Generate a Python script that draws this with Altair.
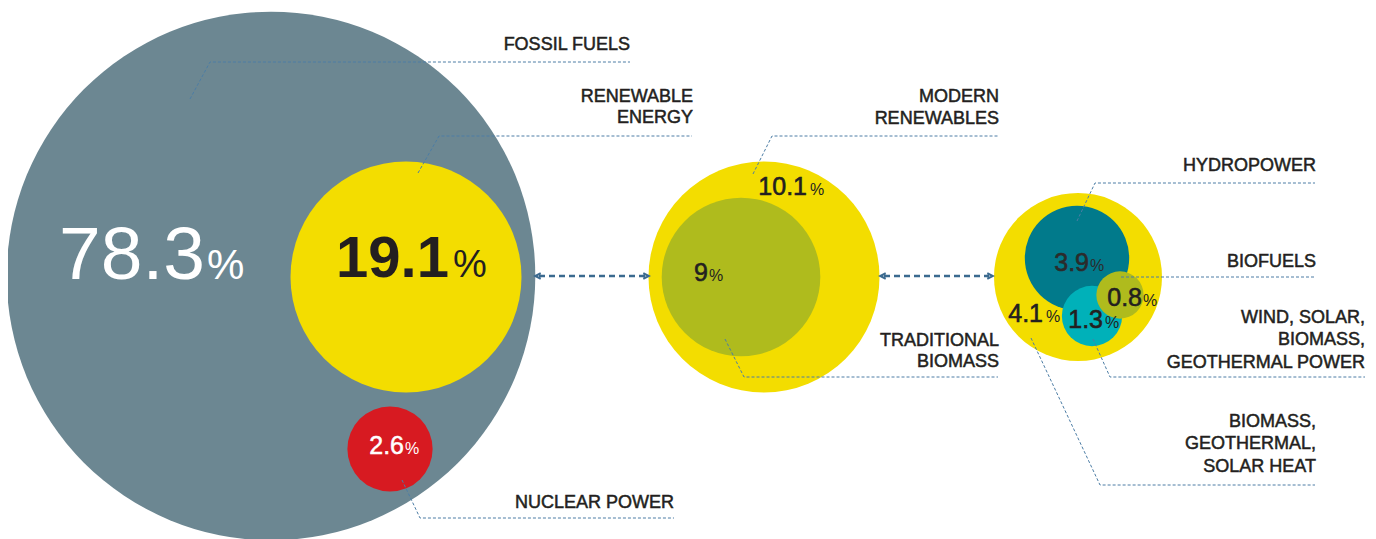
import altair as alt
import pandas as pd

# ---------------- values ----------------
circle_names = ["Total final energy consumption", "Renewable energy", "Nuclear power",
                "Renewable energy (detail)", "Traditional biomass", "Modern renewables",
                "Hydropower", "Wind, solar, biomass, geothermal power", "Biofuels"]
circle_shares = [100.0, 19.1, 2.6, 19.1, 9.0, 10.1, 3.9, 1.3, 0.8]

value_texts = ["78.3", "19.1", "2.6", "10.1", "9", "3.9", "0.8", "4.1", "1.3"]

label_lines = ["FOSSIL FUELS", "RENEWABLE", "ENERGY", "NUCLEAR POWER",
               "MODERN", "RENEWABLES", "TRADITIONAL", "BIOMASS",
               "HYDROPOWER", "BIOFUELS", "WIND, SOLAR,", "BIOMASS,", "GEOTHERMAL POWER",
               "BIOMASS,", "GEOTHERMAL,", "SOLAR HEAT"]

# ---------------- layout (positions / styles) ----------------
circle_cx = [271, 406, 390, 764, 741, 1078, 1077, 1092, 1120]
circle_cy = [276, 277, 449, 277, 277, 277, 258, 316, 295]
circle_colors = ["#6C8792", "#F3DD00", "#D71A21", "#F3DD00", "#AFBB1D",
                 "#F3DD00", "#017A8B", "#00B1B9", "#AFBB1D"]
K = 26.43  # radius per sqrt(percent)

value_x = [205, 449, 404, 807, 708, 1089, 1142, 1043, 1103]
pct_x = [207, 453, 405, 810, 709, 1090, 1143, 1046, 1105]
value_y = [279, 277, 454, 195, 281, 271, 306, 322, 328]
value_fs = [75, 58, 25, 25, 25, 25, 25, 25, 25]
pct_fs = [42, 38, 16, 16, 16, 16, 16, 16, 16]
value_col = ["#FFFFFF", "#231F20", "#FFFFFF", "#231F20", "#231F20",
             "#2B2B2B", "#231F20", "#231F20", "#231F20"]
value_sw = [0, 0, 0.5, 0.6, 0.6, 0.6, 0.6, 0.6, 0.6]
value_bold = [False, True, False, False, False, False, False, False, False]

label_x = [630, 693, 693, 674, 999, 999, 999, 999, 1316, 1316, 1365, 1365, 1365, 1316, 1316, 1316]
label_y = [50, 102, 123, 508, 102, 124, 346, 367, 171, 267, 323, 345, 368, 427, 449, 472]

leaders = {
    "fossil": [(190, 99), (210, 62), (630, 62)],
    "renew": [(418, 173), (439, 136), (692, 136)],
    "nuclear": [(402, 480), (420, 518), (674, 518)],
    "modern": [(753, 174), (772, 136), (998, 136)],
    "trad": [(725, 339), (744, 377), (998, 377)],
    "hydro": [(1077, 221), (1095, 183), (1315, 183)],
    "biofuels": [(1121, 277), (1315, 277)],
    "wind": [(1093, 339), (1110, 377), (1365, 377)],
    "heat": [(1031, 338), (1100, 485), (1315, 485)],
}
arrow_segments = {"a1": [(539, 276), (645, 276)], "a2": [(884, 276), (989, 276)]}
arrow_heads_left = [(538, 276), (883, 276)]
arrow_heads_right = [(646, 276), (990, 276)]

# ---------------- tables ----------------
circles = pd.DataFrame({
    "name": circle_names, "share": circle_shares, "cx": circle_cx, "cy": circle_cy,
    "color": circle_colors, "z": list(range(len(circle_names)))})

values = pd.DataFrame({
    "num": value_texts, "x": value_x, "px": pct_x, "y": value_y, "fs": value_fs,
    "pfs": pct_fs, "col": value_col, "sw": value_sw, "bold": value_bold,
    "pct": ["%"] * len(value_texts)})

labels = pd.DataFrame({"text": label_lines, "x": label_x, "y": label_y})

lead_rows = []
for k, pts in leaders.items():
    for i, (x, y) in enumerate(pts):
        lead_rows.append({"id": k, "seq": i, "x": x, "y": y})
lead_df = pd.DataFrame(lead_rows)

arr_rows = []
for k, pts in arrow_segments.items():
    for i, (x, y) in enumerate(pts):
        arr_rows.append({"id": k, "seq": i, "x": x, "y": y})
arr_df = pd.DataFrame(arr_rows)
heads_l = pd.DataFrame({"x": [p[0] for p in arrow_heads_left], "y": [p[1] for p in arrow_heads_left]})
heads_r = pd.DataFrame({"x": [p[0] for p in arrow_heads_right], "y": [p[1] for p in arrow_heads_right]})

W, H = 1360, 531
xs = alt.Scale(domain=[8, 8 + W], nice=False, zero=False)
ys = alt.Scale(domain=[8, 8 + H], nice=False, zero=False, reverse=True)
X = lambda f="x": alt.X(f"{f}:Q", scale=xs, axis=None)
Y = lambda f="y": alt.Y(f"{f}:Q", scale=ys, axis=None)

FONT = "Liberation Sans"
size_range = 4 * K * K * 100

circ = alt.Chart(circles).mark_circle(opacity=1, strokeWidth=0).encode(
    x=X("cx"), y=Y("cy"),
    size=alt.Size("share:Q", scale=alt.Scale(type="linear", domain=[0, 100], range=[0, size_range], zero=True), legend=None),
    color=alt.Color("color:N", scale=None),
    order=alt.Order("z:Q"),
)

lead = alt.Chart(lead_df).mark_line(strokeDash=[3, 2], strokeWidth=1, color="#4C7DA5").encode(
    x=X(), y=Y(), detail="id:N", order="seq:Q")

arr = alt.Chart(arr_df).mark_line(strokeDash=[6, 4], strokeWidth=2.6, color="#3B6A8F").encode(
    x=X(), y=Y(), detail="id:N", order="seq:Q")
hl = alt.Chart(heads_l).mark_point(shape="M1,-1L-1,0L1,1", size=30, filled=False, strokeWidth=2,
                                   color="#3B6A8F", opacity=1).encode(x=X(), y=Y())
hr = alt.Chart(heads_r).mark_point(shape="M-1,-1L1,0L-1,1", size=30, filled=False, strokeWidth=2,
                                   color="#3B6A8F", opacity=1).encode(x=X(), y=Y())

num_norm = alt.Chart(values).transform_filter("!datum.bold").mark_text(
    align="right", baseline="alphabetic", font=FONT).encode(
    x=X(), y=Y(), text="num:N", size=alt.Size("fs:Q", scale=None),
    color=alt.Color("col:N", scale=None), stroke=alt.Stroke("col:N", scale=None),
    strokeWidth=alt.StrokeWidth("sw:Q", scale=None))
num_bold = alt.Chart(values).transform_filter("datum.bold").mark_text(
    align="right", baseline="alphabetic", font=FONT, fontWeight="bold").encode(
    x=X(), y=Y(), text="num:N", size=alt.Size("fs:Q", scale=None), color=alt.Color("col:N", scale=None))
pct = alt.Chart(values).mark_text(align="left", baseline="alphabetic", font=FONT).encode(
    x=X("px"), y=Y(), text="pct:N", size=alt.Size("pfs:Q", scale=None), color=alt.Color("col:N", scale=None))

lab = alt.Chart(labels).mark_text(align="right", baseline="alphabetic", font=FONT, fontSize=18,
                                  color="#231F20", stroke="#231F20", strokeWidth=0.5).encode(
    x=X(), y=Y(), text="text:N")

chart = alt.layer(circ, lead, arr, hl, hr, num_norm, num_bold, pct, lab).properties(
    width=W, height=H, padding=0, autosize=alt.AutoSizeParams(type="none"),
    background="#FFFFFF"
).configure_view(stroke=None)

chart.save("out.html", embed_options={"renderer": "svg", "actions": False})
